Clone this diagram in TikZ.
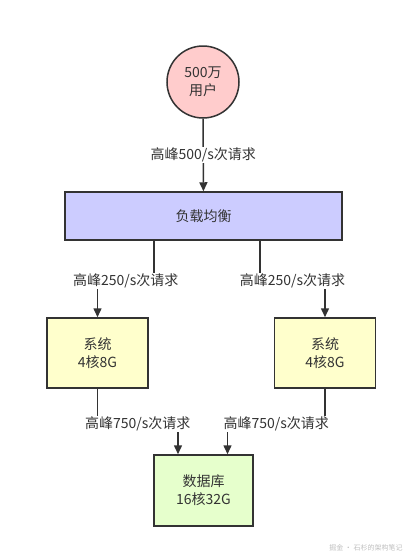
\documentclass[tikz,border=0pt]{standalone}
\usepackage{fontspec}
\setmainfont{Noto Sans CJK SC}
\usetikzlibrary{arrows.meta}

\definecolor{usercol}{RGB}{255,204,204}
\definecolor{lbcol}{RGB}{204,204,255}
\definecolor{syscol}{RGB}{255,255,204}
\definecolor{dbcol}{RGB}{230,255,204}
\definecolor{edge}{RGB}{51,51,51}

\begin{document}
\begin{tikzpicture}[x=1pt, y=-1pt,
  box/.style={draw=edge, line width=1.5pt, text=edge, align=center, font=\fontsize{14}{18}\selectfont},
  flow/.style={draw=edge, line width=1.5pt, -{Triangle[length=9pt,width=8pt]}},
  lbl/.style={fill=white, inner sep=1pt, text=edge, font=\fontsize{14}{17}\selectfont}]

\useasboundingbox[fill=white] (0,0) rectangle (407,558);

\node[box, circle, fill=usercol, minimum size=72pt, inner sep=0pt]  (users) at (203,82) {500万\\用户};
\node[box, rectangle, fill=lbcol, minimum width=277pt, minimum height=48pt] (lb) at (203.5,216) {负载均衡};
\node[box, rectangle, fill=syscol, minimum width=101pt, minimum height=70pt] (sysA) at (97.5,353) {系统\\4核8G};
\node[box, rectangle, fill=syscol, minimum width=101pt, minimum height=70pt] (sysB) at (325,353) {系统\\4核8G};
\node[box, rectangle, fill=dbcol, minimum width=99pt, minimum height=71pt] (db) at (203.5,490.5) {数据库\\16核32G};

% users -> load balancer
\draw[flow] (users) -- node[lbl] {高峰500/s次请求} (lb);

% load balancer -> systems
\draw[flow] ([xshift=-49.5pt]lb.south) -- ++(0,40) -| node[lbl, pos=0.25] {高峰250/s次请求} (sysA.north);
\draw[flow] ([xshift=56.5pt]lb.south) -- ++(0,40) -| node[lbl, pos=0.25] {高峰250/s次请求} (sysB.north);

% systems -> database
\draw[flow] (sysA.south) -- ++(0,35) -| node[lbl, pos=0.25] {高峰750/s次请求} ([xshift=-25.5pt]db.north);
\draw[flow] (sysB.south) -- ++(0,35) -| node[lbl, pos=0.25] {高峰750/s次请求} ([xshift=24pt]db.north);

\node[text=black!25, font=\fontsize{7}{8}\selectfont] (mark) at (366,548) {掘金 · 石杉的架构笔记};
\end{tikzpicture}
\end{document}
